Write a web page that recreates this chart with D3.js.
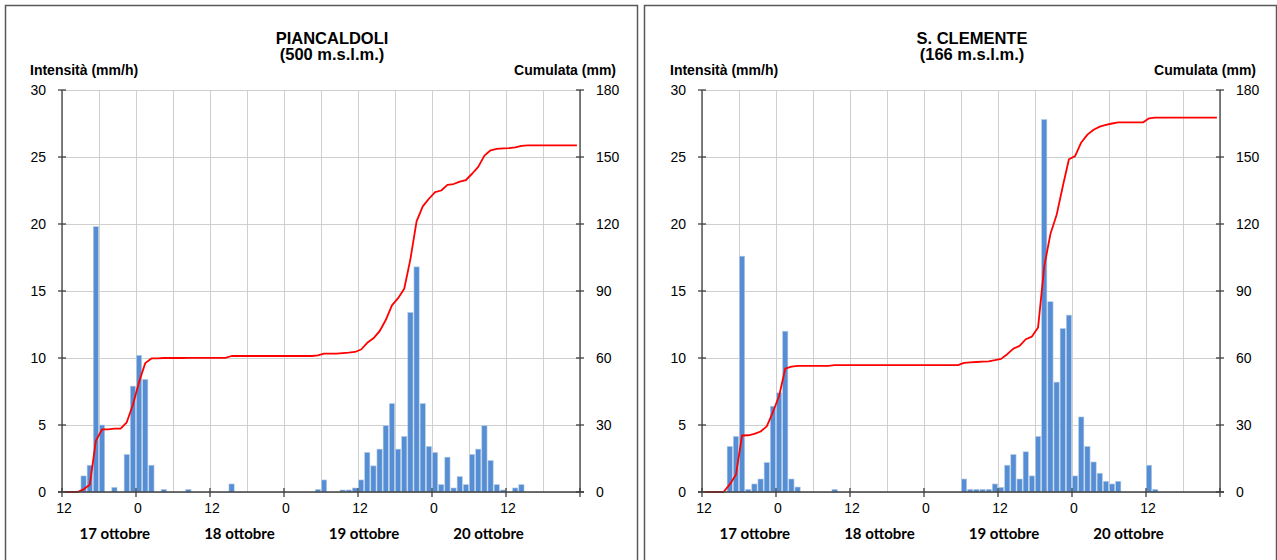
<!DOCTYPE html>
<html>
<head>
<meta charset="utf-8">
<script src="https://cdn.jsdelivr.net/npm/d3@7"></script>
<style>
  html, body { margin: 0; padding: 0; background: #ffffff; }
  svg { display: block; }
</style>
</head>
<body>
<svg id="chart" width="1277" height="560"></svg>
<script>
// ---------- DATA ----------
const stationNames = ["PIANCALDOLI", "S. CLEMENTE"];
const stationAltitudes = ["(500 m.s.l.m.)", "(166 m.s.l.m.)"];
const leftAxisTitle = "Intensità (mm/h)";
const rightAxisTitle = "Cumulata (mm)";
const xTickLabels = ["12", "0", "12", "0", "12", "0", "12"];
const dayLabels = ["17 ottobre", "18 ottobre", "19 ottobre", "20 ottobre"];
const intensityTicks = [0, 5, 10, 15, 20, 25, 30];
const cumulataTicks = [0, 30, 60, 90, 120, 150, 180];

// hourly intensity (mm/h), 84 hours starting 16 Oct 12:00
const piancaldoliIntensity = [
  0, 0, 0, 1.2, 2.0, 19.8, 5.0, 0, 0.35, 0,
  2.8, 7.9, 10.2, 8.4, 2.0, 0, 0.2, 0, 0, 0,
  0.2, 0, 0, 0, 0, 0, 0, 0.6, 0, 0,
  0, 0, 0, 0, 0, 0, 0, 0, 0, 0,
  0, 0.2, 0.9, 0, 0, 0.15, 0.15, 0.3, 0.9, 2.95,
  1.95, 3.2, 4.95, 6.6, 3.2, 4.15, 13.4, 16.8, 6.6, 3.4,
  2.95, 0.55, 2.6, 0.3, 1.15, 0.55, 2.8, 3.2, 4.95, 2.35,
  0.55, 0.15, 0, 0.3, 0.55, 0, 0, 0, 0, 0,
  0, 0, 0, 0
];
const piancaldoliCumulata = [
  0, 0, 0, 1.2, 3.2, 23.0, 28.0, 28.0, 28.4, 28.4,
  31.2, 39.1, 49.3, 57.7, 59.8, 59.8, 60.0, 60.0, 60.0, 60.0,
  60.1, 60.1, 60.1, 60.1, 60.1, 60.1, 60.1, 60.9, 60.9, 60.9,
  60.9, 60.9, 60.9, 60.9, 60.9, 60.9, 60.9, 60.9, 60.9, 60.9,
  60.9, 61.2, 62.0, 62.0, 62.0, 62.2, 62.4, 62.7, 63.8, 66.8,
  68.8, 72.0, 77.0, 83.6, 86.8, 91.0, 104.3, 121.2, 127.9, 131.3,
  134.3, 135.0, 137.5, 137.9, 139.0, 139.7, 142.5, 145.6, 150.6, 153.0,
  153.6, 153.9, 154.0, 154.3, 155.0, 155.2, 155.2, 155.2, 155.2, 155.2,
  155.2, 155.2, 155.2, 155.2
];
const sClementeIntensity = [
  0, 0, 0, 0, 3.4, 4.15, 17.6, 0.2, 0.6, 0.97,
  2.2, 6.4, 7.4, 12.0, 0.97, 0.37, 0, 0, 0, 0,
  0, 0.2, 0, 0, 0, 0, 0, 0, 0, 0,
  0, 0, 0, 0, 0, 0, 0, 0, 0, 0,
  0, 0, 0.97, 0.2, 0.2, 0.2, 0.2, 0.6, 0.35, 2.0,
  2.8, 0.97, 3.0, 1.2, 4.15, 27.8, 14.2, 8.2, 12.2, 13.2,
  1.2, 5.6, 3.4, 2.24, 1.4, 0.8, 0.6, 0.8, 0, 0,
  0, 0, 2.0, 0.2, 0, 0, 0, 0, 0, 0,
  0, 0, 0, 0
];
const sClementeCumulata = [
  0, 0, 0, 0, 3.4, 7.7, 25.3, 25.4, 26.0, 27.1,
  29.4, 35.8, 43.0, 55.2, 56.1, 56.5, 56.5, 56.5, 56.5, 56.5,
  56.5, 56.8, 56.8, 56.8, 56.8, 56.8, 56.8, 56.8, 56.8, 56.8,
  56.8, 56.8, 56.8, 56.8, 56.8, 56.8, 56.8, 56.8, 56.8, 56.8,
  56.8, 56.8, 57.8, 58.0, 58.2, 58.4, 58.5, 59.0, 59.6, 61.7,
  64.2, 65.4, 68.4, 69.6, 73.7, 101.0, 115.5, 124.0, 136.8, 149.0,
  150.4, 156.5, 160.0, 162.2, 163.6, 164.4, 165.0, 165.5, 165.5, 165.5,
  165.5, 165.5, 167.3, 167.6, 167.6, 167.6, 167.6, 167.6, 167.6, 167.6,
  167.6, 167.6, 167.6, 167.6
];

// ---------- DRAW ----------
const svg = d3.select("#chart");
const FONT = "'Liberation Sans', Arial, sans-serif";
const DAYFONT = "Lato, 'Open Sans', sans-serif";

const panels = [
  { box: [5, 5, 632, 570], left: 62, name: stationNames[0], alt: stationAltitudes[0],
    intensity: piancaldoliIntensity, cum: piancaldoliCumulata },
  { box: [644, 5, 632, 570], left: 702, name: stationNames[1], alt: stationAltitudes[1],
    intensity: sClementeIntensity, cum: sClementeCumulata }
];

const W = 518, TOP = 90, BOTTOM = 492;
const nHours = 84;

panels.forEach(p => {
  const g = svg.append("g");

  // frame
  g.append("rect")
    .attr("x", p.box[0] + 0.5).attr("y", p.box[1] + 0.5)
    .attr("width", p.box[2]).attr("height", p.box[3])
    .attr("fill", "#fff").attr("stroke", "#595959").attr("stroke-width", 1.5);

  const L = p.left, R = p.left + W;
  const xBand = d3.scaleBand().domain(d3.range(nHours)).range([L, R])
    .paddingInner(0.15).paddingOuter(0.075);
  const xH = d3.scaleLinear().domain([0, nHours]).range([L, R]);
  const yI = d3.scaleLinear().domain([0, 30]).range([BOTTOM, TOP]);
  const yC = d3.scaleLinear().domain([0, 180]).range([BOTTOM, TOP]);

  // gridlines
  const grid = g.append("g").attr("stroke", "#cfcfcf").attr("stroke-width", 1);
  intensityTicks.forEach(t => {
    grid.append("line").attr("x1", L).attr("x2", R)
      .attr("y1", Math.round(yI(t)) + 0.5).attr("y2", Math.round(yI(t)) + 0.5);
  });
  d3.range(0, nHours + 1, 6).forEach(h => {
    grid.append("line").attr("y1", TOP).attr("y2", BOTTOM)
      .attr("x1", Math.round(xH(h)) + 0.5).attr("x2", Math.round(xH(h)) + 0.5);
  });

  // bars
  g.append("g").selectAll("rect")
    .data(p.intensity.map((v, i) => ({ v, i })).filter(d => d.v > 0))
    .join("rect")
    .attr("x", d => xBand(d.i))
    .attr("width", xBand.bandwidth())
    .attr("y", d => yI(d.v))
    .attr("height", d => yI(0) - yI(d.v))
    .attr("fill", "#558ED5")
    .attr("stroke", "#B9CDE5")
    .attr("stroke-width", 0.6);

  // cumulative line
  const line = d3.line()
    .x((d, i) => xH(i + 0.5))
    .y(d => yC(d));
  g.append("path").datum(p.cum)
    .attr("d", line)
    .attr("fill", "none")
    .attr("stroke", "#ff0000")
    .attr("stroke-width", 1.8)
    .attr("stroke-linejoin", "round");

  // axes lines
  const ax = g.append("g").attr("stroke", "#404040").attr("stroke-width", 1.3);
  ax.append("line").attr("x1", L).attr("x2", L).attr("y1", TOP).attr("y2", BOTTOM);
  ax.append("line").attr("x1", R).attr("x2", R).attr("y1", TOP).attr("y2", BOTTOM);
  ax.append("line").attr("x1", L - 4).attr("x2", R + 4).attr("y1", BOTTOM).attr("y2", BOTTOM);
  intensityTicks.forEach(t => {
    ax.append("line").attr("x1", L - 4).attr("x2", L + 4).attr("y1", yI(t)).attr("y2", yI(t));
  });
  cumulataTicks.forEach(t => {
    ax.append("line").attr("x1", R - 4).attr("x2", R + 4).attr("y1", yC(t)).attr("y2", yC(t));
  });
  d3.range(0, nHours + 1, 12).forEach(h => {
    ax.append("line").attr("x1", xH(h)).attr("x2", xH(h)).attr("y1", BOTTOM - 4).attr("y2", BOTTOM + 5);
  });

  // tick labels
  const tl = g.append("g").attr("font-family", FONT).attr("font-size", 14).attr("fill", "#000");
  intensityTicks.forEach(t => {
    tl.append("text").attr("x", L - 16).attr("y", yI(t) + 5)
      .attr("text-anchor", "end").text(t);
  });
  cumulataTicks.forEach(t => {
    tl.append("text").attr("x", R + 16).attr("y", yC(t) + 5)
      .attr("text-anchor", "start").text(t);
  });
  xTickLabels.forEach((lab, k) => {
    tl.append("text").attr("x", xH(k * 12) + 2).attr("y", 513)
      .attr("text-anchor", "middle").text(lab);
  });

  // day labels
  dayLabels.forEach((lab, k) => {
    g.append("text")
      .attr("x", L + W * (0.102 + k * 0.2405))
      .attr("y", 539)
      .attr("text-anchor", "middle")
      .attr("font-family", DAYFONT)
      .attr("font-weight", "bold")
      .attr("font-size", 15)
      .text(lab);
  });

  // titles
  const cx = L + W / 2 + 11;
  g.append("text").attr("x", cx).attr("y", 44).attr("text-anchor", "middle")
    .attr("font-family", FONT).attr("font-weight", "bold").attr("font-size", 16.5).text(p.name);
  g.append("text").attr("x", cx).attr("y", 60).attr("text-anchor", "middle")
    .attr("font-family", FONT).attr("font-weight", "bold").attr("font-size", 16.5).text(p.alt);
  g.append("text").attr("x", L - 32).attr("y", 75).attr("text-anchor", "start")
    .attr("font-family", FONT).attr("font-weight", "bold").attr("font-size", 14)
    .text(leftAxisTitle);
  g.append("text").attr("x", R + 36).attr("y", 75).attr("text-anchor", "end")
    .attr("font-family", FONT).attr("font-weight", "bold").attr("font-size", 14)
    .text(rightAxisTitle);
});
</script>
</body>
</html>
